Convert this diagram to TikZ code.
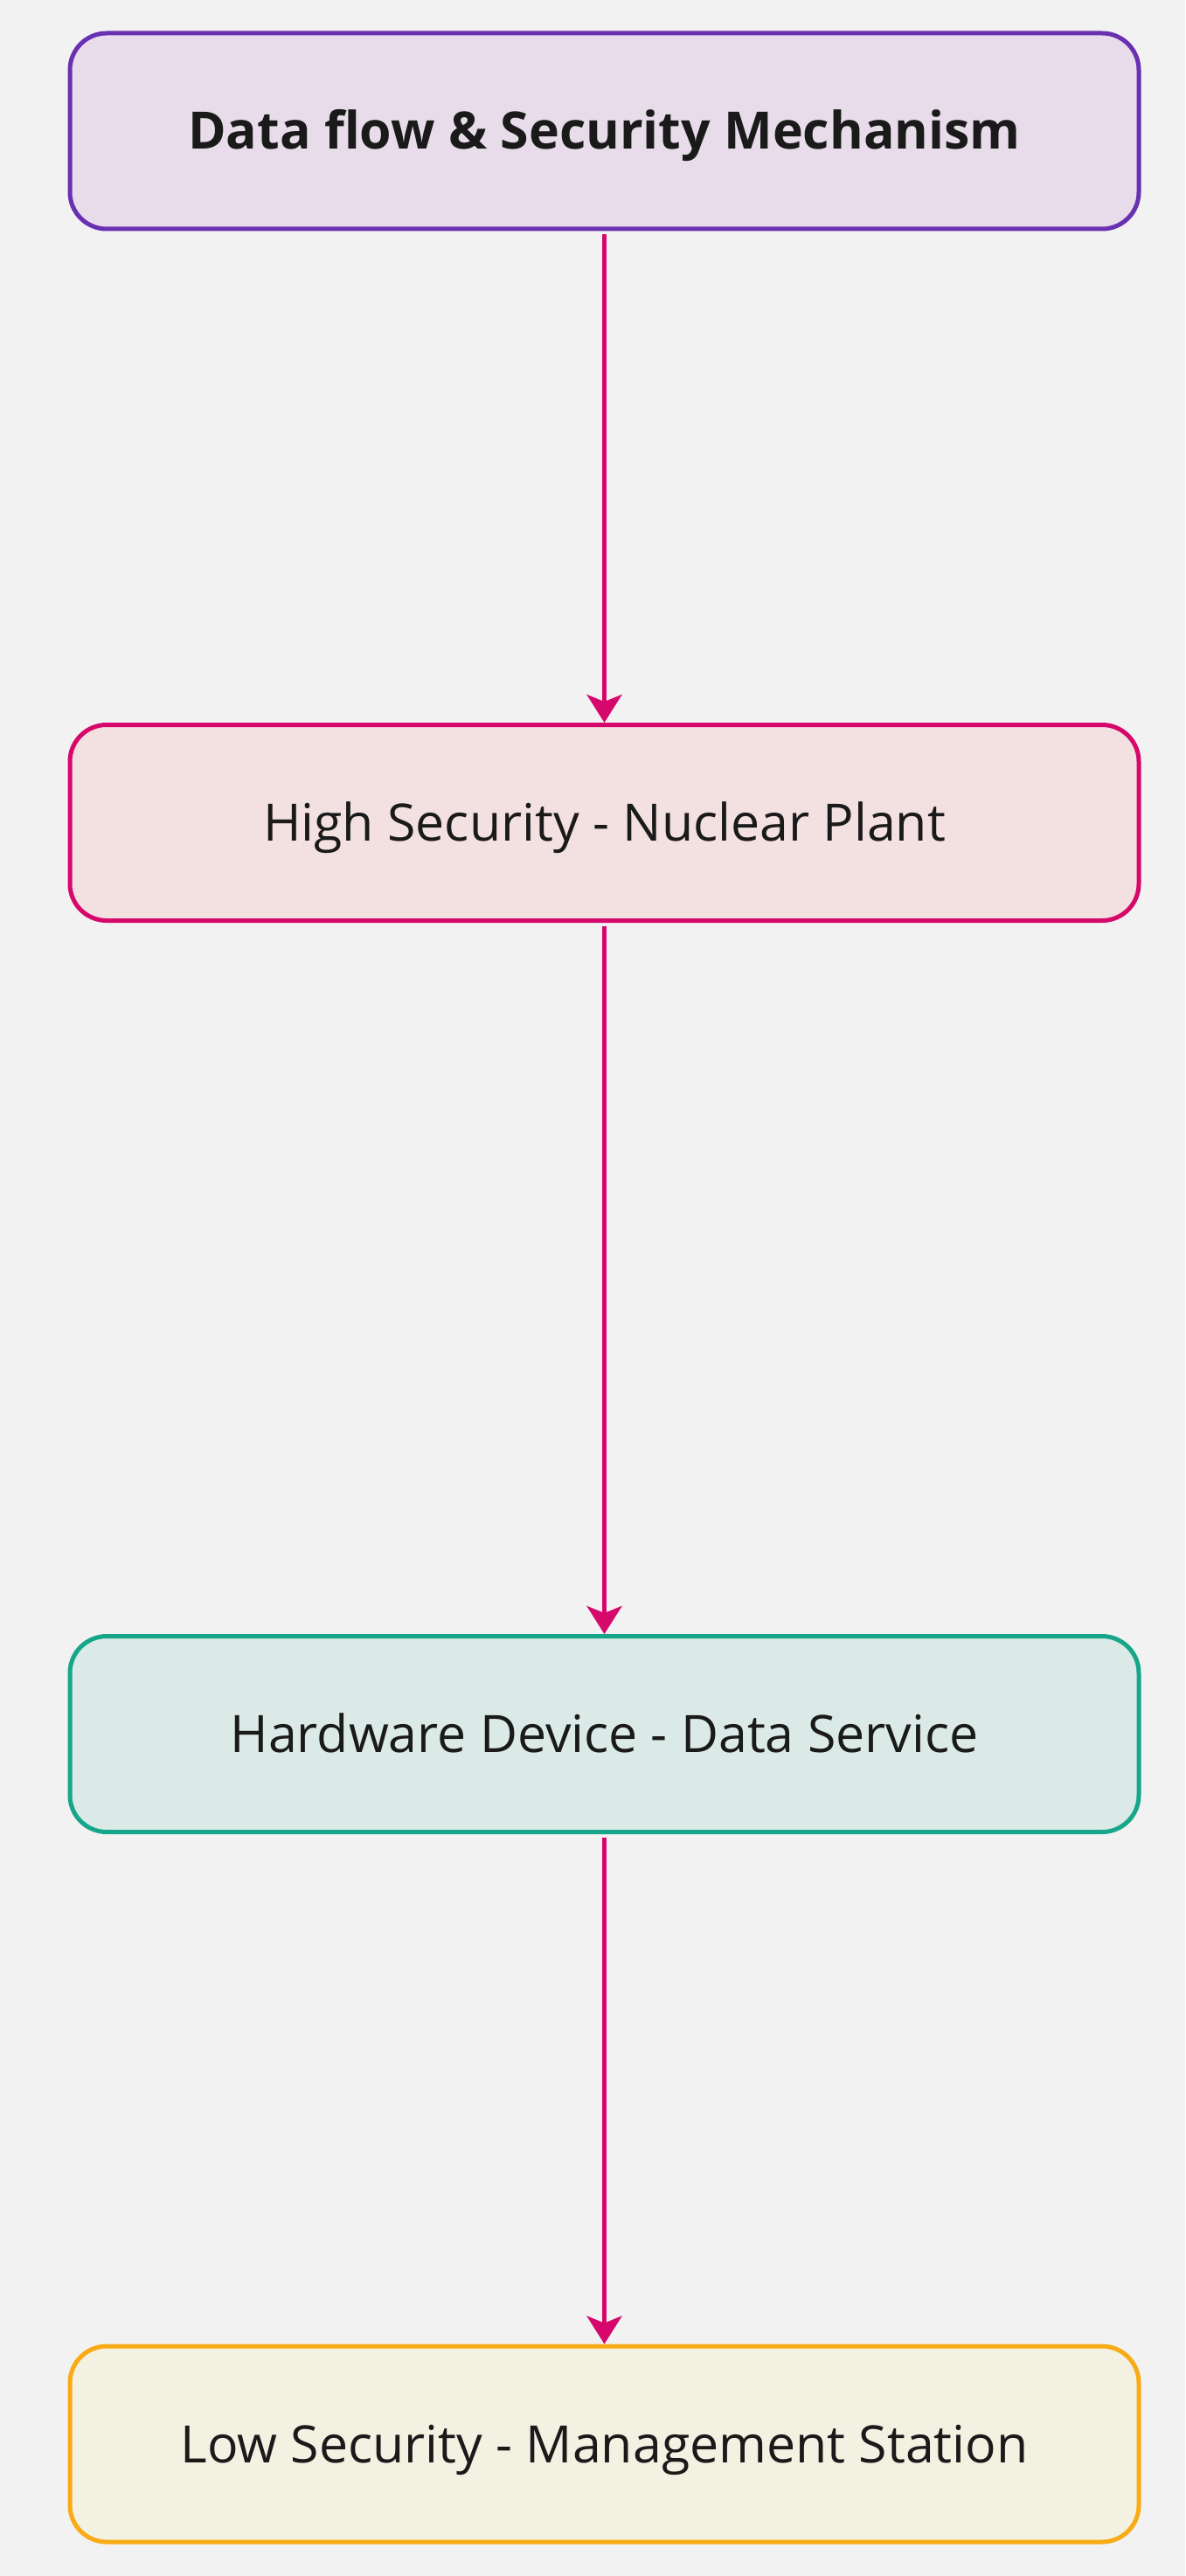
\documentclass[tikz,border=0pt]{standalone}
\usepackage{fontspec}
\setmainfont{Open Sans}
\usetikzlibrary{arrows.meta}
\definecolor{bg}{HTML}{F2F2F2}
\definecolor{txt}{HTML}{1A1A1A}
\definecolor{purS}{HTML}{6A30B2}\definecolor{purF}{HTML}{E8DCEA}
\definecolor{redS}{HTML}{D6086B}\definecolor{redF}{HTML}{F3E0E0}
\definecolor{grnS}{HTML}{16A689}\definecolor{grnF}{HTML}{DBEAE7}
\definecolor{yelS}{HTML}{F8AB14}\definecolor{yelF}{HTML}{F3F1E1}
\definecolor{arr}{HTML}{D6086B}
\tikzset{
  box/.style={rectangle, rounded corners=21pt, line width=2.5pt, minimum width=611.5pt,
    minimum height=112pt, inner sep=0pt, text=txt, text height=21pt, text depth=0pt,
    font=\fontsize{29.5}{36}\selectfont},
  flow/.style={draw=arr, line width=2.5pt, shorten <=2pt,
    -{Stealth[length=16pt,width=20pt,inset=4pt]}}
}
\begin{document}
\begin{tikzpicture}[x=1pt,y=1pt]
\fill[bg] (0,0) rectangle (678,-1474);
\useasboundingbox (0,0) rectangle (678,-1474);
\node[box, draw=purS, fill=purF, font=\fontsize{29.5}{36}\selectfont\bfseries] (a) at (345.75,-75) {Data flow \& Security Mechanism};
\node[box, draw=redS, fill=redF] (b) at (345.75,-470.75) {High Security - Nuclear Plant};
\node[box, draw=grnS, fill=grnF] (c) at (345.75,-992.25) {Hardware Device - Data Service};
\node[box, draw=yelS, fill=yelF] (d) at (345.75,-1398.5) {Low Security - Management Station};
\draw[flow] (a) -- (b);
\draw[flow] (b) -- (c);
\draw[flow] (c) -- (d);
\end{tikzpicture}
\end{document}
